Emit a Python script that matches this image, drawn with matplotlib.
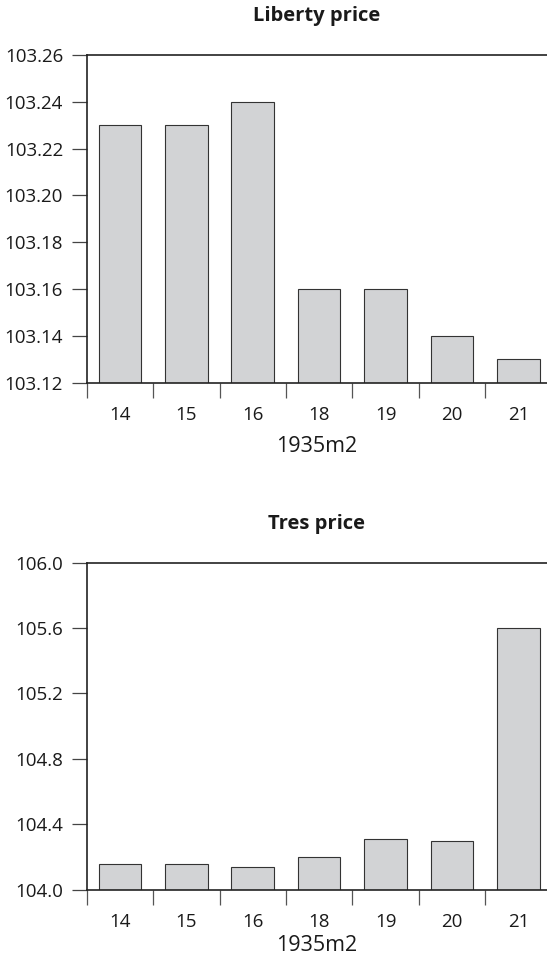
import matplotlib
matplotlib.use("Agg")
import matplotlib.pyplot as plt
import numpy as np

months = ["14", "15", "16", "18", "19", "20", "21"]
liberty_price = [103.23, 103.23, 103.24, 103.16, 103.16, 103.14, 103.13]
tres_price = [104.16, 104.16, 104.14, 104.20, 104.31, 104.30, 105.60]
liberty_ticks = [103.12, 103.14, 103.16, 103.18, 103.20, 103.22, 103.24, 103.26]
tres_ticks = [104.0, 104.4, 104.8, 105.2, 105.6, 106.0]

plt.rcParams["font.family"] = ["Open Sans", "DejaVu Sans"]
TICK_FS = 13.5
TITLE_FS = 14.5
LABEL_FS = 15.5
BAR = "#d2d3d5"
EDGE = "#333333"
SPINE = "#222222"

W, H = 547, 961
fig = plt.figure(figsize=(W / 100, H / 100), dpi=100)


def panel(top_px, bottom_px, values, yticks, fmt, title, xlabel_off):
    left_px = 86.7
    ax = fig.add_axes([left_px / W, 1 - bottom_px / H, 1 - left_px / W,
                       (bottom_px - top_px) / H])
    x = np.arange(len(months))
    ax.bar(x, values, width=0.64, color=BAR, edgecolor=EDGE, linewidth=0.8,
           zorder=2)
    ax.set_xlim(-0.5, 6.43)
    ax.set_ylim(yticks[0], yticks[-1])
    ax.set_yticks(yticks)
    ax.set_yticklabels([fmt % v for v in yticks])
    # tick marks sit between categories, labels at the centres
    ax.set_xticks(np.arange(len(months)) - 0.5)
    ax.set_xticklabels([])
    ax.set_xticks(x, minor=True)
    ax.set_xticklabels(months, minor=True)
    ax.tick_params(axis="x", which="major", length=10.5, width=0.9,
                   color="#555555", direction="out")
    ax.tick_params(axis="x", which="minor", length=0, pad=17,
                   labelsize=TICK_FS, labelcolor="#1a1a1a")
    ax.tick_params(axis="y", length=10.5, width=0.9, color="#444444",
                   pad=6.5, labelsize=TICK_FS, labelcolor="#1a1a1a")
    for side in ["left", "top", "bottom"]:
        ax.spines[side].set_color(SPINE)
        ax.spines[side].set_linewidth(1.2)
        ax.spines[side].set_zorder(3)
    ax.spines["right"].set_visible(False)
    h = bottom_px - top_px
    ax.text(0.5, 1 + 39 / h, title, transform=ax.transAxes, ha="center",
            va="center", fontsize=TITLE_FS, fontweight="bold", color="#1a1a1a")
    ax.text(0.5, -xlabel_off / h, "1935m2", transform=ax.transAxes,
            ha="center", va="center", fontsize=LABEL_FS, color="#1a1a1a")
    return ax


panel(55.0, 382.7, liberty_price, liberty_ticks, "%.2f", "Liberty price", 64)
panel(562.6, 889.7, tres_price, tres_ticks, "%.1f", "Tres price", 56)

fig.savefig("out.png", dpi=100)
